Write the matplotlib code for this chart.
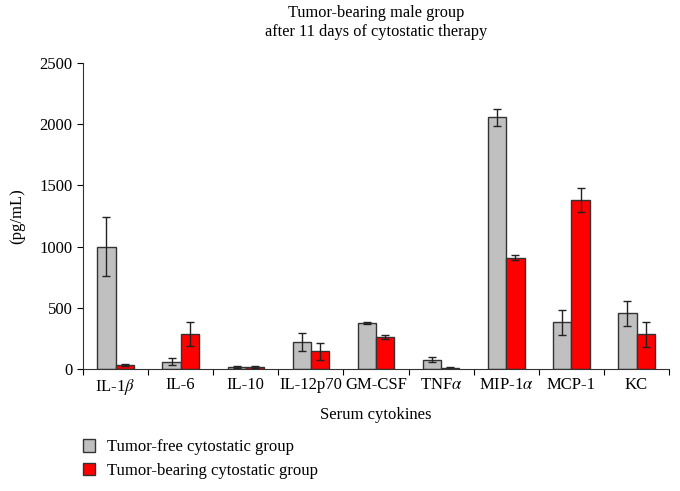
import matplotlib.pyplot as plt
import numpy as np

plt.rcParams['font.family'] = ['Liberation Serif', 'DejaVu Serif']
plt.rcParams['mathtext.fontset'] = 'stix'

cytokines = ['IL-1$\\beta$', 'IL-6', 'IL-10', 'IL-12p70', 'GM-CSF',
             'TNF$\\alpha$', 'MIP-1$\\alpha$', 'MCP-1', 'KC']
free_mean = [1000, 60, 16, 218, 373, 76, 2055, 380, 454]
free_err = [240, 30, 8, 73, 8, 22, 68, 100, 105]
bearing_mean = [35, 288, 14, 144, 264, 8, 908, 1378, 283]
bearing_err = [8, 98, 7, 71, 16, 5, 20, 100, 100]

fig = plt.figure(figsize=(6.8, 4.91), dpi=100)
ax = fig.add_axes([0.122, 0.2485, 0.862, 0.6235])

x = np.arange(len(cytokines))
w = 0.28
ekw = dict(ecolor='#222222', elinewidth=1.0, capsize=2.7, capthick=1.0)
ax.bar(x - w / 2, free_mean, w, yerr=free_err, color='#c0c0c0',
       edgecolor='#333333', linewidth=1.0, error_kw=ekw,
       label='Tumor-free cytostatic group')
ax.bar(x + w / 2, bearing_mean, w, yerr=bearing_err, color='#ff0000',
       edgecolor='#333333', linewidth=1.0, error_kw=ekw,
       label='Tumor-bearing cytostatic group')

ax.set_xlim(-0.5, len(cytokines) - 0.5)
ax.set_ylim(0, 2500)
ax.set_yticks(range(0, 2501, 500))
ax.set_xticks(x)
ax.set_xticklabels(cytokines, fontsize=12)
ax.set_xticks(np.arange(-0.5, len(cytokines)), minor=True)
ax.tick_params(axis='x', which='major', length=0, pad=6)
ax.tick_params(axis='x', which='minor', length=4, direction='out', width=0.8)
ax.tick_params(axis='y', length=4, width=0.8, labelsize=12)

for s in ['top', 'right']:
    ax.spines[s].set_visible(False)
for s in ['left', 'bottom']:
    ax.spines[s].set_linewidth(0.8)
    ax.spines[s].set_color('#333333')

ax.set_ylabel('(pg/mL)', fontsize=12, labelpad=10)
ax.set_xlabel('Serum cytokines', fontsize=12, labelpad=7)
ax.set_title('Tumor-bearing male group\nafter 11 days of cytostatic therapy',
             fontsize=11.8, pad=19, linespacing=1.25)

fig.legend(loc='upper left', bbox_to_anchor=(0.112, 0.119), frameon=False,
           fontsize=12, handlelength=0.75, handleheight=0.75,
           handletextpad=0.7, labelspacing=0.45, borderaxespad=0)

fig.savefig('out.png', dpi=100)
